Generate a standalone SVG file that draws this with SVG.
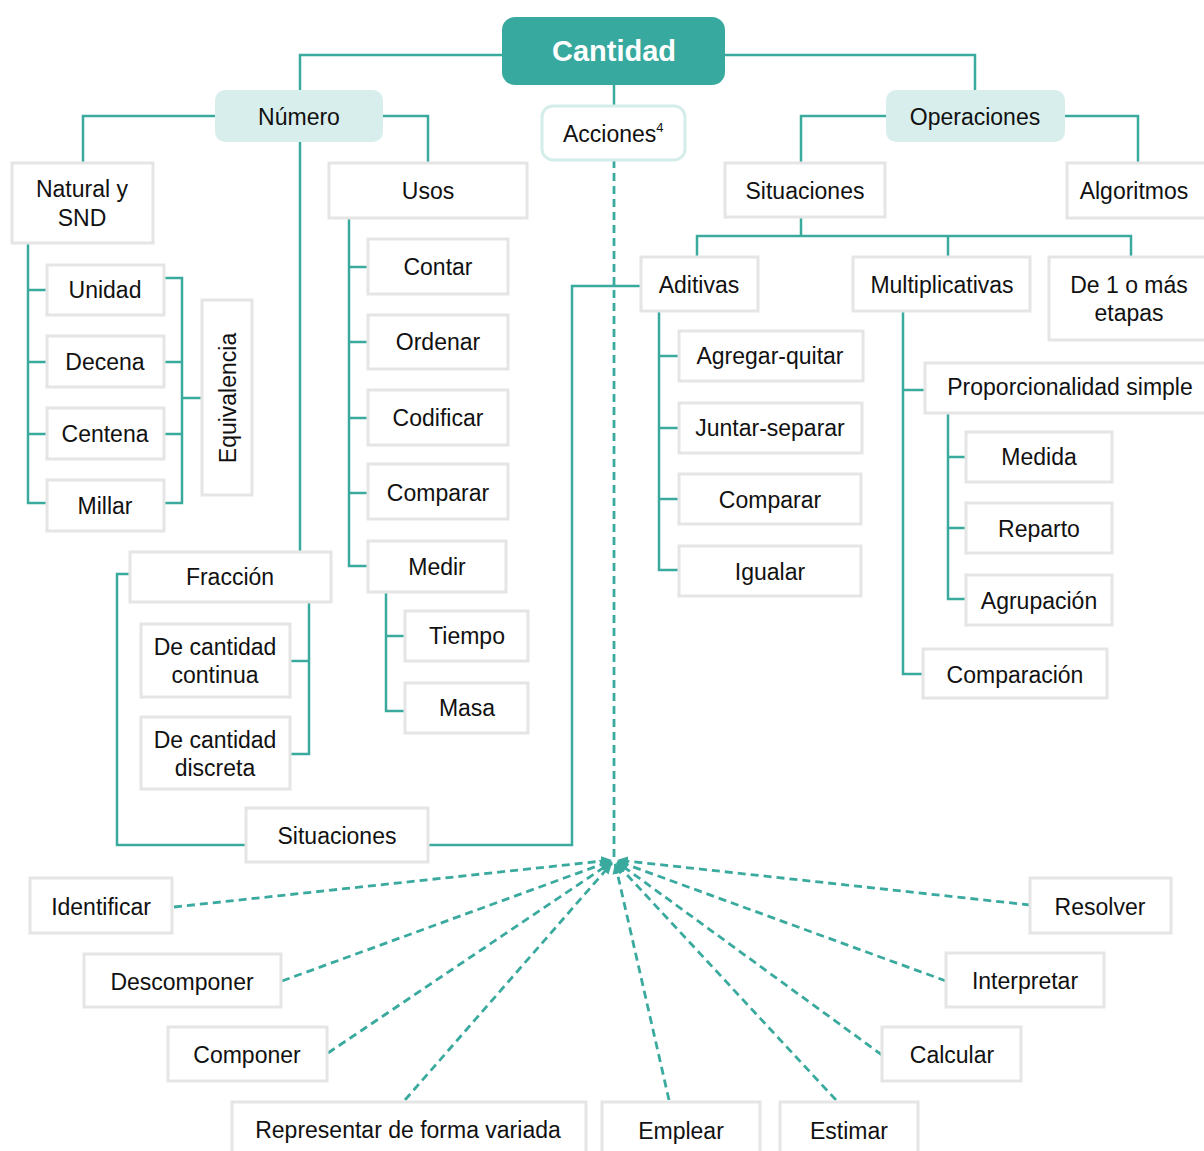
<svg xmlns="http://www.w3.org/2000/svg" width="1204" height="1151" viewBox="0 0 1204 1151">
<style>
.b{fill:#fff;stroke:#e5e5e5;stroke-width:3}
.t{font-family:"Liberation Sans",Arial,sans-serif;font-size:23px;fill:#111;text-anchor:middle}
.c{fill:none;stroke:#3aaa9f;stroke-width:2.5}
.d{fill:none;stroke:#3aaa9f;stroke-width:2.8;stroke-dasharray:8 5}
.lt{fill:#d8eeec}
</style>
<defs>
<marker id="ar" markerUnits="userSpaceOnUse" markerWidth="11" markerHeight="10" refX="11" refY="5" orient="auto">
<path d="M0,0 L11,5 L0,10 z" fill="#3aaa9f"/>
</marker>
</defs>
<rect width="1204" height="1151" fill="#fff"/>
<g id="connectors">
<path class="c" d="M502,55 H300 V90"/>
<path class="c" d="M725,55 H975 V90"/>
<path class="c" d="M614,85 V106"/>
<path class="c" d="M215,116 H83 V163"/>
<path class="c" d="M383,116 H428 V163"/>
<path class="c" d="M300,142 V552"/>
<path class="c" d="M28,243 V503 H47 M28,290 H47 M28,362 H47 M28,434 H47"/>
<path class="c" d="M164,278 H182 V503 H164 M164,362 H182 M164,434 H182 M182,398 H202"/>
<path class="c" d="M349,218 V566 H368 M349,267 H368 M349,342 H368 M349,418 H368 M349,493 H368"/>
<path class="c" d="M386,592 V711 H405 M386,636 H405"/>
<path class="c" d="M309,602 V754 H290 M290,661 H309"/>
<path class="c" d="M130,574 H117 V845 H246"/>
<path class="c" d="M428,845 H572 V286 H641"/>
<path class="c" d="M886,116 H801 V163"/>
<path class="c" d="M1065,116 H1138 V163"/>
<path class="c" d="M801,217 V236 M697,257 V236 H1131 V257 M948,236 V257"/>
<path class="c" d="M659,311 V570 H679 M659,356 H679 M659,428 H679 M659,499 H679"/>
<path class="c" d="M903,311 V674 H923 M903,390 H925"/>
<path class="c" d="M948,413 V599 H966 M948,457 H966 M948,528 H966"/>
<path class="d" d="M614,160 V857"/>
<g marker-end="url(#ar)">
<path class="d" d="M174,907 L612,860"/>
<path class="d" d="M282,981 L611,861"/>
<path class="d" d="M328,1053 L612,862"/>
<path class="d" d="M405,1100 L612,863"/>
<path class="d" d="M669,1100 L615,863"/>
<path class="d" d="M836,1100 L616,863"/>
<path class="d" d="M882,1055 L617,862"/>
<path class="d" d="M946,981 L617,861"/>
<path class="d" d="M1030,905 L617,860"/>
</g>
</g>
<g id="cantidad"><rect x="502" y="17" width="223" height="68" rx="13" fill="#38a99e"/><text x="614" y="61" style="font-family:'Liberation Sans',Arial,sans-serif;font-size:29px;font-weight:bold;fill:#fff;text-anchor:middle">Cantidad</text></g>
<g id="numero"><rect class="lt" x="215" y="90" width="168" height="52" rx="10"/><text class="t" x="299" y="125">Número</text></g>
<g id="operaciones"><rect class="lt" x="886" y="90" width="179" height="52" rx="10"/><text class="t" x="975" y="125">Operaciones</text></g>
<g id="acciones"><rect x="542" y="106" width="143" height="54" rx="11" fill="#fff" stroke="#d5edea" stroke-width="3"/><text class="t" x="563" y="142" style="text-anchor:start">Acciones<tspan font-size="13" dy="-10">4</tspan></text></g>
<g id="natural"><rect class="b" x="12" y="163" width="141" height="80"/><text class="t" x="82" y="197">Natural y</text><text class="t" x="82" y="226">SND</text></g>
<g id="unidad"><rect class="b" x="47" y="265" width="117" height="50"/><text class="t" x="105" y="298">Unidad</text></g>
<g id="decena"><rect class="b" x="47" y="336" width="117" height="51"/><text class="t" x="105" y="370">Decena</text></g>
<g id="centena"><rect class="b" x="47" y="408" width="117" height="51"/><text class="t" x="105" y="442">Centena</text></g>
<g id="millar"><rect class="b" x="47" y="480" width="117" height="51"/><text class="t" x="105" y="514">Millar</text></g>
<g id="equivalencia"><rect class="b" x="202" y="300" width="50" height="195"/><text class="t" transform="translate(236,398) rotate(-90)">Equivalencia</text></g>
<g id="usos"><rect class="b" x="329" y="163" width="198" height="55"/><text class="t" x="428" y="199">Usos</text></g>
<g id="contar"><rect class="b" x="368" y="239" width="140" height="55"/><text class="t" x="438" y="275">Contar</text></g>
<g id="ordenar"><rect class="b" x="368" y="315" width="140" height="54"/><text class="t" x="438" y="350">Ordenar</text></g>
<g id="codificar"><rect class="b" x="368" y="390" width="140" height="55"/><text class="t" x="438" y="426">Codificar</text></g>
<g id="comparar1"><rect class="b" x="368" y="464" width="140" height="55"/><text class="t" x="438" y="501">Comparar</text></g>
<g id="medir"><rect class="b" x="368" y="541" width="138" height="51"/><text class="t" x="437" y="575">Medir</text></g>
<g id="tiempo"><rect class="b" x="405" y="611" width="123" height="50"/><text class="t" x="467" y="644">Tiempo</text></g>
<g id="masa"><rect class="b" x="405" y="683" width="123" height="50"/><text class="t" x="467" y="716">Masa</text></g>
<g id="fraccion"><rect class="b" x="130" y="552" width="201" height="50"/><text class="t" x="230" y="585">Fracción</text></g>
<g id="continua"><rect class="b" x="141" y="624" width="149" height="73"/><text class="t" x="215" y="655">De cantidad</text><text class="t" x="215" y="683">continua</text></g>
<g id="discreta"><rect class="b" x="141" y="717" width="149" height="72"/><text class="t" x="215" y="748">De cantidad</text><text class="t" x="215" y="776">discreta</text></g>
<g id="situaciones1"><rect class="b" x="246" y="808" width="182" height="54"/><text class="t" x="337" y="844">Situaciones</text></g>
<g id="situaciones2"><rect class="b" x="725" y="163" width="160" height="54"/><text class="t" x="805" y="199">Situaciones</text></g>
<g id="algoritmos"><rect class="b" x="1067" y="163" width="150" height="55"/><text class="t" x="1134" y="199">Algoritmos</text></g>
<g id="aditivas"><rect class="b" x="641" y="257" width="117" height="54"/><text class="t" x="699" y="293">Aditivas</text></g>
<g id="multiplicativas"><rect class="b" x="853" y="257" width="177" height="54"/><text class="t" x="942" y="293">Multiplicativas</text></g>
<g id="etapas"><rect class="b" x="1049" y="257" width="161" height="83"/><text class="t" x="1129" y="293">De 1 o más</text><text class="t" x="1129" y="321">etapas</text></g>
<g id="agregar"><rect class="b" x="679" y="331" width="184" height="50"/><text class="t" x="770" y="364">Agregar-quitar</text></g>
<g id="juntar"><rect class="b" x="679" y="403" width="183" height="50"/><text class="t" x="770" y="436">Juntar-separar</text></g>
<g id="comparar2"><rect class="b" x="679" y="474" width="182" height="50"/><text class="t" x="770" y="508">Comparar</text></g>
<g id="igualar"><rect class="b" x="679" y="546" width="182" height="50"/><text class="t" x="770" y="580">Igualar</text></g>
<g id="proporcionalidad"><rect class="b" x="925" y="363" width="290" height="50"/><text class="t" x="1070" y="395">Proporcionalidad simple</text></g>
<g id="medida"><rect class="b" x="966" y="432" width="146" height="50"/><text class="t" x="1039" y="465">Medida</text></g>
<g id="reparto"><rect class="b" x="966" y="503" width="146" height="50"/><text class="t" x="1039" y="537">Reparto</text></g>
<g id="agrupacion"><rect class="b" x="966" y="575" width="146" height="50"/><text class="t" x="1039" y="609">Agrupación</text></g>
<g id="comparacion"><rect class="b" x="923" y="649" width="184" height="49"/><text class="t" x="1015" y="683">Comparación</text></g>
<g id="identificar"><rect class="b" x="30" y="878" width="142" height="55"/><text class="t" x="101" y="915">Identificar</text></g>
<g id="descomponer"><rect class="b" x="84" y="954" width="197" height="53"/><text class="t" x="182" y="990">Descomponer</text></g>
<g id="componer"><rect class="b" x="168" y="1027" width="159" height="54"/><text class="t" x="247" y="1063">Componer</text></g>
<g id="representar"><rect class="b" x="232" y="1102" width="354" height="60"/><text class="t" x="408" y="1138">Representar de forma variada</text></g>
<g id="emplear"><rect class="b" x="602" y="1102" width="158" height="60"/><text class="t" x="681" y="1139">Emplear</text></g>
<g id="estimar"><rect class="b" x="780" y="1102" width="138" height="60"/><text class="t" x="849" y="1139">Estimar</text></g>
<g id="calcular"><rect class="b" x="882" y="1027" width="139" height="54"/><text class="t" x="952" y="1063">Calcular</text></g>
<g id="interpretar"><rect class="b" x="946" y="953" width="158" height="54"/><text class="t" x="1025" y="989">Interpretar</text></g>
<g id="resolver"><rect class="b" x="1030" y="878" width="141" height="55"/><text class="t" x="1100" y="915">Resolver</text></g>
</svg>
